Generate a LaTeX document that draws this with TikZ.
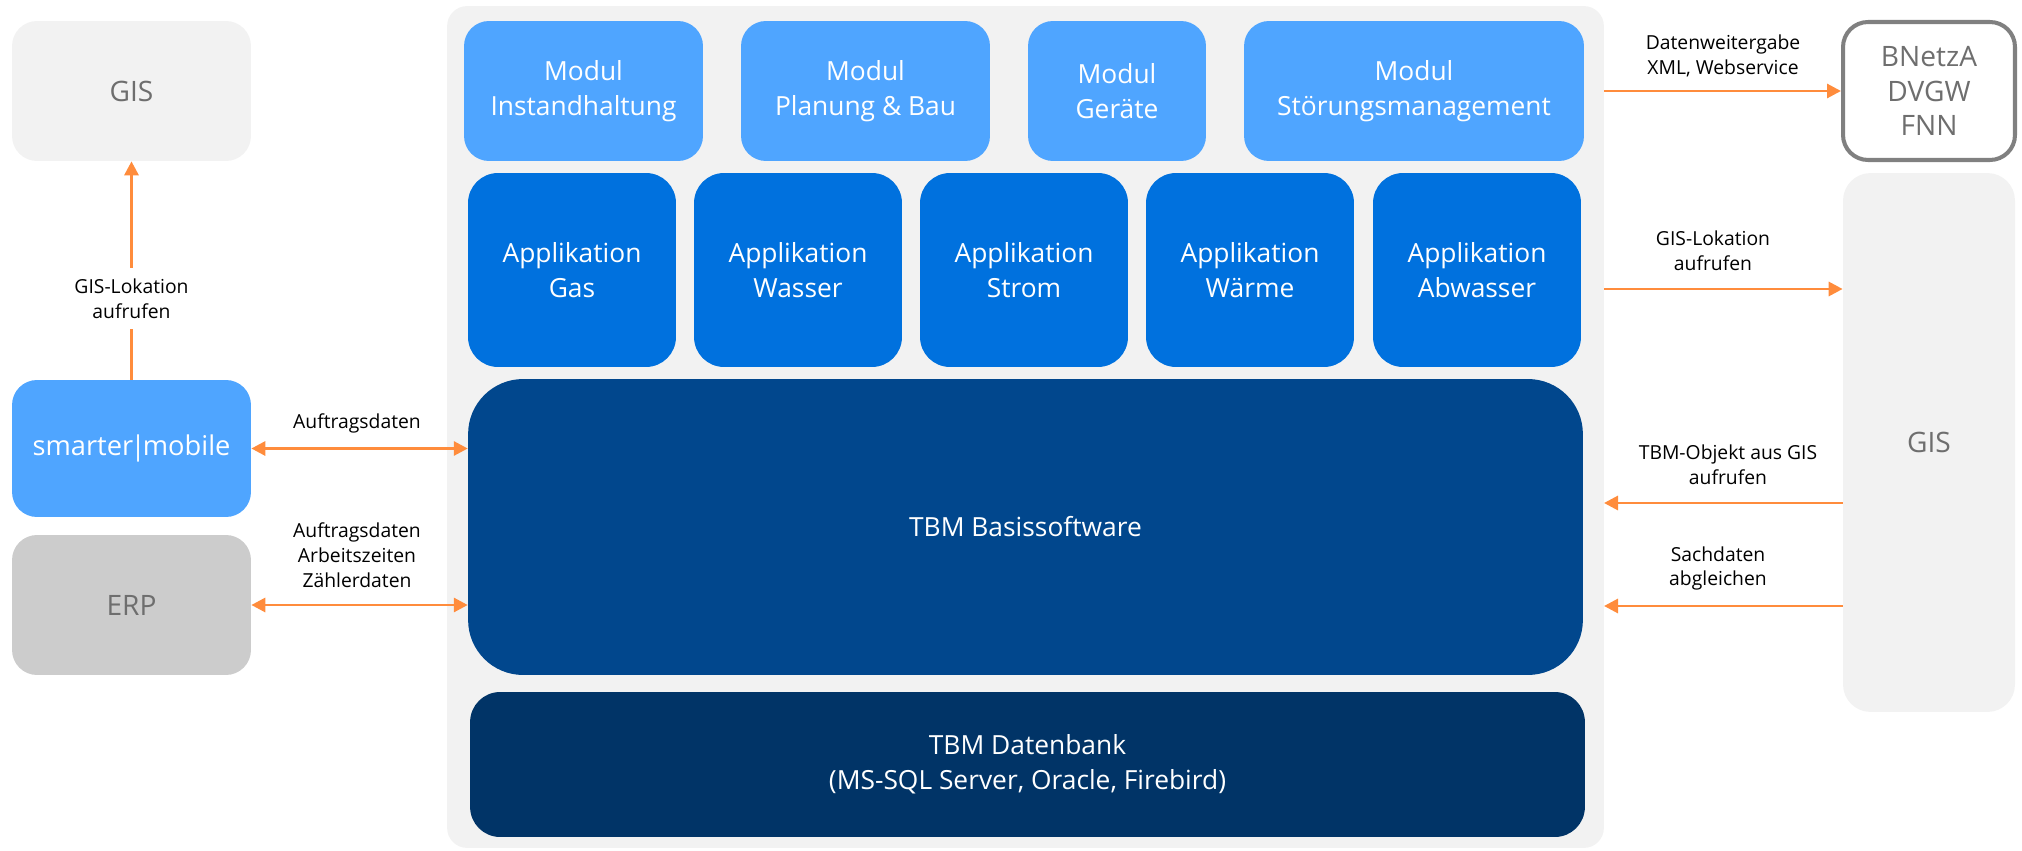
\documentclass[tikz,border=0pt]{standalone}
\usepackage{fontspec}
\setmainfont{Open Sans}
\usetikzlibrary{arrows.meta}
\definecolor{modblue}{HTML}{4FA5FF}
\definecolor{appblue}{HTML}{0071DE}
\definecolor{basblue}{HTML}{01478D}
\definecolor{dbblue}{HTML}{013467}
\definecolor{bggray}{HTML}{F2F2F2}
\definecolor{erpgray}{HTML}{CCCCCC}
\definecolor{txtgray}{HTML}{6E6E6E}
\definecolor{flowor}{HTML}{FF8C3C}
\begin{document}
\begin{tikzpicture}[x=0.02cm,y=-0.02cm,
  box/.style={rounded corners=0.5cm, align=center, inner sep=0pt, font=\fontsize{15}{20}\selectfont},
  modbox/.style={box, fill=modblue, text=white, minimum height=2.8cm},
  appbox/.style={box, fill=appblue, text=white, rounded corners=0.6cm, minimum width=4.16cm, minimum height=3.88cm},
  graybox/.style={box, fill=bggray, text=txtgray, font=\fontsize{16}{19.5}\selectfont},
  flow/.style={draw=flowor, line width=1.7pt, -{Triangle[length=0.28cm,width=0.28cm]}},
  flowboth/.style={flow, {Triangle[length=0.28cm,width=0.28cm]}-{Triangle[length=0.28cm,width=0.28cm]}},
  flowlbl/.style={align=center, font=\fontsize{11}{14.2}\selectfont, inner sep=2pt}]
\useasboundingbox (0,0) rectangle (2022,851);
% TBM block
\node[box, fill=bggray, minimum width=23.14cm, minimum height=16.84cm, rounded corners=0.4cm] (tbm) at (1025.5,427) {};
\node[modbox, minimum width=4.78cm] (inst) at (583.5,91) {Modul\\Instandhaltung};
\node[modbox, minimum width=4.98cm] (plan) at (865.5,91) {Modul\\Planung \& Bau};
\node[modbox, minimum width=3.56cm] (geraet) at (1117,91) {Modul\\Geräte};
\node[modbox, minimum width=6.8cm] (stoer) at (1414,91) {Modul\\Störungsmanagement};
\node[appbox] (gas) at (572,270) {Applikation\\Gas};
\node[appbox] (wasser) at (798,270) {Applikation\\Wasser};
\node[appbox] (strom) at (1024,270) {Applikation\\Strom};
\node[appbox] (waerme) at (1250,270) {Applikation\\Wärme};
\node[appbox] (abw) at (1477,270) {Applikation\\Abwasser};
\node[box, fill=basblue, text=white, rounded corners=1.1cm, minimum width=22.3cm, minimum height=5.92cm] (basis) at (1025.5,527) {TBM Basissoftware};
\node[box, fill=dbblue, text=white, rounded corners=0.6cm, minimum width=22.3cm, minimum height=2.9cm] (db) at (1027.5,764.5) {TBM Datenbank\\(MS-SQL Server, Oracle, Firebird)};
% left side
\node[graybox, minimum width=4.78cm, minimum height=2.8cm] (gisL) at (131.5,91) {GIS};
\node[box, fill=modblue, text=white, minimum width=4.78cm, minimum height=2.74cm, font=\fontsize{15.5}{20}\selectfont] (mob) at (131.5,448.5) {smarter\kern-1.5pt|\kern-1.5pt mobile};
\node[graybox, fill=erpgray, minimum width=4.78cm, minimum height=2.8cm] (erp) at (131.5,605) {ERP};
% right side
\node[graybox, fill=white, draw=gray, line width=2.3pt, minimum width=3.44cm, minimum height=2.76cm] (bnetza) at (1929,91) {BNetzA\\DVGW\\FNN};
\node[graybox, minimum width=3.44cm, minimum height=10.78cm, rounded corners=0.55cm] (gisR) at (1929,442.5) {GIS};
\coordinate (r1) at (1604,91);
\coordinate (r2) at (1604,289);
\coordinate (r3) at (1604,503);
\coordinate (r4) at (1604,606);
% arrows
\draw[flow] (mob) -- node[flowlbl, fill=white, pos=0.37, inner ysep=6pt] {GIS-Lokation\\aufrufen} (gisL);
\draw[flowboth] (mob.east) -- (mob.east -| basis.west);
\draw[flowboth] (erp.east) -- (erp.east -| basis.west);
\draw[flow] (r1) -- (r1 -| bnetza.west);
\draw[flow] (r2) -- (r2 -| gisR.west);
\draw[flow] (r3 -| gisR.west) -- (r3);
\draw[flow] (r4 -| gisR.west) -- (r4);
\node[flowlbl] (l1) at (357,423) {Auftragsdaten};
\node[flowlbl] (l2) at (357,555) {Auftragsdaten\\Arbeitszeiten\\Zählerdaten};
\node[flowlbl] (l3) at (1723,55.5) {Datenweitergabe\\XML, Webservice};
\node[flowlbl] (l4) at (1713,250.5) {GIS-Lokation\\aufrufen};
\node[flowlbl] (l5) at (1728,464.5) {TBM-Objekt aus GIS\\aufrufen};
\node[flowlbl] (l6) at (1718,568.5) {Sachdaten\\abgleichen};
\end{tikzpicture}
\end{document}
